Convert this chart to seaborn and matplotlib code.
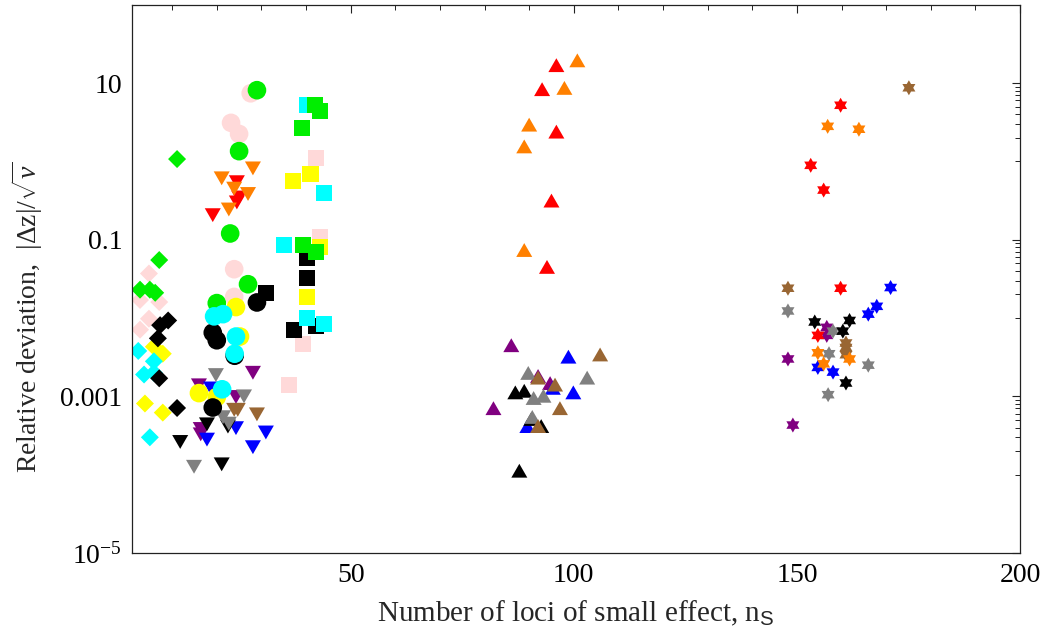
import matplotlib
matplotlib.use("Agg")
import matplotlib.pyplot as plt
from matplotlib.path import Path
from matplotlib.transforms import Affine2D
from matplotlib.ticker import FixedLocator, NullFormatter
import pandas as pd
import seaborn as sns

# colour names used by every marker group
PALETTE = {
    "pink": "#FFD9D9", "green": "#00EE00", "red": "#FF0000", "orange": "#FF8000",
    "black": "#000000", "yellow": "#FFFF00", "cyan": "#00FFFF", "purple": "#800080",
    "gray": "#808080", "blue": "#0000FF", "brown": "#996633",
}

# squares
SQUARE_COLOR = ["pink"] * 4 + ["black"] * 5 + ["yellow"] * 4 + ["cyan"] * 5 + ["green"] * 5
SQUARE_NS = [42.2, 43.1, 39.3, 36.1,
             40.2, 40.2, 42.2, 37.2, 31.0,
             41.0, 37.0, 43.1, 40.2,
             40.2, 44.0, 35.0, 40.2, 44.0,
             42.0, 43.1, 39.0, 39.3, 42.2]
SQUARE_DEV = [1.1, 0.107, 0.0047, 0.00138,
              0.058, 0.032, 0.0079, 0.0071, 0.021,
              0.68, 0.56, 0.081, 0.0186,
              5.2, 0.40, 0.085, 0.010, 0.0085,
              5.2, 4.4, 2.7, 0.085, 0.069]

# downward triangles
DOWN_COLOR = ["red"] * 4 + ["orange"] * 5 + ["purple"] * 5 + ["blue"] * 5 + ["black"] * 4 + ["gray"] * 5 + ["brown"] * 3
DOWN_NS = [24.5, 25.0, 24.5, 19.1,
           28.1, 21.1, 23.9, 27.0, 22.7,
           28.1, 16.0, 24.3, 16.4, 16.4,
           18.7, 24.3, 31.0, 17.8, 28.1,
           17.8, 22.5, 11.8, 21.1,
           19.8, 26.1, 21.4, 22.7, 14.9,
           24.7, 23.9, 29.0]
DOWN_DEV = [0.58, 0.37, 0.32, 0.22,
            0.87, 0.65, 0.48, 0.41, 0.26,
            0.00214, 0.00148, 0.00105, 0.00041, 0.00035,
            0.00135, 0.00042, 0.00037, 0.00030, 0.00024,
            0.00047, 0.00044, 0.00028, 0.000145,
            0.0020, 0.00107, 0.00058, 0.00048, 0.000135,
            0.00072, 0.00072, 0.00063]

# diamonds
DIAMOND_COLOR = ["pink"] * 5 + ["green"] * 5 + ["yellow"] * 4 + ["cyan"] * 5 + ["black"] * 5
DIAMOND_NS = [4.8, 2.8, 7.1, 4.8, 2.8,
              11.1, 7.1, 2.8, 5.0, 6.2,
              5.9, 7.9, 3.9, 7.9,
              2.4, 5.9, 3.7, 5.9, 5.0,
              9.1, 7.3, 6.8, 7.1, 11.1]
DIAMOND_DEV = [0.037, 0.017, 0.016, 0.0098, 0.0071,
               1.07, 0.055, 0.023, 0.023, 0.021,
               0.0043, 0.0035, 0.00081, 0.00062,
               0.0038, 0.0028, 0.0019, 0.0020, 0.00030,
               0.0093, 0.0081, 0.0055, 0.0017, 0.00071]

# circles
CIRCLE_COLOR = ["pink"] * 5 + ["yellow"] * 4 + ["black"] * 5 + ["green"] * 5 + ["cyan"] * 5
CIRCLE_NS = [27.6, 23.2, 25.0, 23.9, 23.9,
             24.3, 25.2, 16.0, 20.0,
             29.0, 19.1, 20.0, 24.0, 19.1,
             29.0, 25.0, 23.0, 27.0, 20.0,
             19.4, 21.4, 24.3, 24.0, 21.2]
CIRCLE_DEV = [7.4, 3.1, 2.24, 0.042, 0.0186,
              0.0138, 0.0058, 0.0011, 0.00098,
              0.0158, 0.0065, 0.0052, 0.0033, 0.00072,
              8.1, 1.35, 0.12, 0.027, 0.0155,
              0.0105, 0.0112, 0.0058, 0.0035, 0.00123]

# upward triangles
UP_COLOR = ["purple"] * 4 + ["blue"] * 4 + ["black"] * 5 + ["gray"] * 5 + ["brown"] * 5 + ["red"] * 5 + ["orange"] * 5
UP_NS = [86.0, 92.0, 94.7, 82.0,
         98.8, 95.3, 99.9, 89.6,
         86.9, 88.9, 90.5, 92.7, 87.8,
         89.8, 103.0, 91.0, 93.2, 90.7,
         105.9, 92.0, 95.8, 96.9, 92.0,
         96.1, 92.9, 96.1, 95.0, 94.0,
         100.8, 97.9, 90.0, 88.9, 88.9]
UP_DEV = [0.0042, 0.0017, 0.00138, 0.00066,
          0.0030, 0.0012, 0.00105, 0.00039,
          0.00105, 0.0011, 0.00048, 0.00039, 0.000105,
          0.00186, 0.00162, 0.00089, 0.00095, 0.00051,
          0.0032, 0.00162, 0.00132, 0.00066, 0.00039,
          15.8, 7.8, 2.24, 0.295, 0.042,
          18.2, 8.1, 2.75, 1.45, 0.069]

# six-pointed stars
STAR_COLOR = ["purple"] * 4 + ["blue"] * 5 + ["gray"] * 5 + ["black"] * 4 + ["brown"] * 5 + ["red"] * 5 + ["orange"] * 5
STAR_NS = [156.7, 156.7, 148.0, 149.1,
           171.0, 167.9, 166.0, 154.7, 158.1,
           148.0, 158.1, 157.2, 166.0, 157.0,
           154.0, 161.8, 160.3, 161.0,
           175.1, 148.0, 161.0, 161.0, 161.0,
           159.8, 153.1, 156.0, 159.8, 154.7,
           156.9, 163.9, 154.7, 161.8, 156.0]
STAR_DEV = [0.0076, 0.0060, 0.0030, 0.00043,
            0.0245, 0.0141, 0.0112, 0.00234, 0.00204,
            0.0123, 0.0068, 0.0035, 0.0025, 0.00105,
            0.0089, 0.0093, 0.0068, 0.00148,
            8.7, 0.024, 0.0048, 0.0042, 0.0034,
            5.2, 0.89, 0.43, 0.024, 0.0060,
            2.8, 2.57, 0.0036, 0.0030, 0.0026]

X_MAJOR = [50, 100, 150, 200]
Y_MAJOR = [1e-5, 1e-3, 1e-1, 10]
Y_MAJOR_LABELS = [r"$10^{-5}$", "0.001", "0.1", "10"]

# marker shapes
tri_up = Path.unit_regular_polygon(3)
tri_down = Affine2D().scale(1, -1).transform_path(tri_up)
hexagram = Path.unit_regular_star(6, 0.5774)

sns.set_style("white")
plt.rcParams["font.family"] = ["Liberation Serif", "DejaVu Serif"]
plt.rcParams["mathtext.fontset"] = "custom"
plt.rcParams["mathtext.rm"] = "Liberation Serif"
plt.rcParams["mathtext.it"] = "Liberation Serif:italic"
plt.rcParams["mathtext.sf"] = "Liberation Sans"

fig = plt.figure(figsize=(10.47, 6.37), dpi=100)
ax = fig.add_axes([132 / 1047, 1 - 553 / 637, 888 / 1047, 548.3 / 637])
ax.set_yscale("log")

groups = [
    (SQUARE_COLOR, SQUARE_NS, SQUARE_DEV, "s", 133),
    (DOWN_COLOR, DOWN_NS, DOWN_DEV, tri_down, 177),
    (DIAMOND_COLOR, DIAMOND_NS, DIAMOND_DEV, "D", 84),
    (CIRCLE_COLOR, CIRCLE_NS, CIRCLE_DEV, "o", 180),
    (UP_COLOR, UP_NS, UP_DEV, tri_up, 177),
    (STAR_COLOR, STAR_NS, STAR_DEV, hexagram, 117),
]
for colors, ns, dev, marker, size in groups:
    df = pd.DataFrame({"ns": ns, "dev": dev, "colour": colors})
    sns.scatterplot(data=df, x="ns", y="dev", hue="colour", palette=PALETTE,
                    marker=marker, s=size, linewidth=0, edgecolor="none",
                    legend=False, ax=ax, clip_on=True)

ax.set_xlim(1, 200)
ax.set_ylim(1e-5, 100)

ax.xaxis.set_major_locator(FixedLocator(X_MAJOR))
ax.xaxis.set_minor_locator(FixedLocator([v for v in range(10, 200, 10) if v % 50]))
ax.set_xticklabels([str(v) for v in X_MAJOR])
ax.yaxis.set_major_locator(FixedLocator(Y_MAJOR))
ax.set_yticklabels(Y_MAJOR_LABELS)
y_minor = [j * 10.0 ** e for e in (-4, -2, 0) for j in range(1, 10)] + [100]
ax.yaxis.set_minor_locator(FixedLocator(y_minor))
ax.yaxis.set_minor_formatter(NullFormatter())

ax.tick_params(which="both", direction="in", top=True, right=True,
               labeltop=False, labelright=False, colors="#222222",
               labelcolor="black", labelsize=20)
ax.tick_params(which="major", length=6, width=0.8)
ax.tick_params(which="minor", length=3.5, width=0.7)
ax.tick_params(axis="x", which="major", pad=7)
ax.tick_params(axis="y", which="major", pad=7)

for sp in ax.spines.values():
    sp.set_color("#222222")
    sp.set_linewidth(0.9)

ax.set_xlabel(r"Number of loci of small effect, n$_{\mathsf{S}}$", fontsize=21, labelpad=8)
ax.set_ylabel(r"Relative deviation,  $|\Delta\mathrm{z}|/\sqrt{\nu}$", fontsize=20)
ax.yaxis.set_label_coords(-0.098, 0.43)

fig.savefig("out.png", dpi=100)
